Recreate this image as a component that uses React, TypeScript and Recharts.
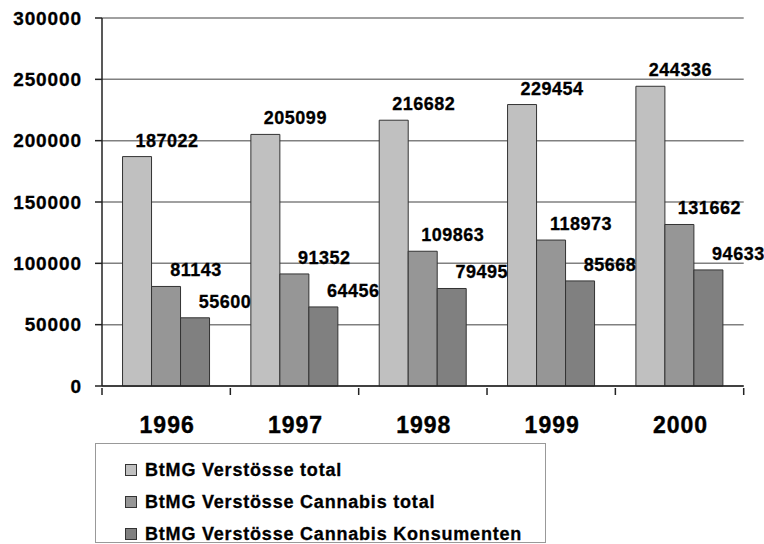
import React from "react"
import { BarChart, Bar, XAxis, YAxis, CartesianGrid, Legend, LabelList } from "recharts"

const years = ["1996", "1997", "1998", "1999", "2000"]
const verstoesseTotal = [187022, 205099, 216682, 229454, 244336]
const cannabisTotal = [81143, 91352, 109863, 118973, 131662]
const cannabisKonsumenten = [55600, 64456, 79495, 85668, 94633]
const yTicks = [0, 50000, 100000, 150000, 200000, 250000, 300000]

const seriesInfo = [
  { key: "total", name: "BtMG Verstösse total", color: "#c0c0c0" },
  { key: "cannabis", name: "BtMG Verstösse Cannabis total", color: "#969696" },
  { key: "konsum", name: "BtMG Verstösse Cannabis Konsumenten", color: "#808080" },
]

const data = years.map((year, i) => ({
  year,
  total: verstoesseTotal[i],
  cannabis: cannabisTotal[i],
  konsum: cannabisKonsumenten[i],
}))

const FONT = "'Liberation Sans', Arial, sans-serif"
const W = 764
const H = 544
const PLOT_LEFT = 102
const PLOT_RIGHT = 743.7
const BAND = (PLOT_RIGHT - PLOT_LEFT) / years.length

const BarLabel = (props: any) => {
  const { x, y, width, value } = props
  return (
    <text
      x={x + width / 2 + 30}
      y={y - 16}
      textAnchor="middle"
      dominantBaseline="central"
      fontFamily={FONT}
      fontWeight="bold"
      fontSize={18}
      letterSpacing={0.5}
      stroke="#000"
      strokeWidth={0.3}
      fill="#000"
    >
      {value}
    </text>
  )
}

const YTick = (props: any) => {
  const { x, y, payload } = props
  return (
    <text
      x={x}
      y={y}
      textAnchor="end"
      dominantBaseline="central"
      fontFamily={FONT}
      fontWeight="bold"
      fontSize={19}
      letterSpacing={0.9}
      stroke="#000"
      strokeWidth={0.3}
      fill="#000"
    >
      {payload.value}
    </text>
  )
}

const XTick = (props: any) => {
  const { x, y, payload, index } = props
  const last = index === years.length - 1
  return (
    <g>
      <line x1={x - BAND / 2} x2={x - BAND / 2} y1={y} y2={y + 7} stroke="#222" strokeWidth={1.5} />
      {last && <line x1={x + BAND / 2} x2={x + BAND / 2} y1={y} y2={y + 7} stroke="#222" strokeWidth={1.5} />}
      <text
        x={x + 1}
        y={y + 45}
        textAnchor="middle"
        fontFamily={FONT}
        fontWeight="bold"
        fontSize={23}
        letterSpacing={1}
        stroke="#000"
        strokeWidth={0.4}
        fill="#000"
      >
        {payload.value}
      </text>
    </g>
  )
}

const LegendBox = () => (
  <div
    style={{
      width: 451,
      height: 100,
      border: "1.5px solid #999",
      background: "#fff",
      fontFamily: FONT,
      fontWeight: "bold",
      fontSize: 18,
      letterSpacing: 0.8,
      boxSizing: "border-box",
      paddingTop: 10,
      WebkitTextStroke: "0.3px #000",
    }}
  >
    {seriesInfo.map((s) => (
      <div key={s.key} style={{ display: "flex", alignItems: "center", height: 32, paddingLeft: 29 }}>
        <span
          style={{
            display: "inline-block",
            width: 10,
            height: 10,
            background: s.color,
            border: "1px solid #333",
            marginRight: 8,
          }}
        />
        <span>{s.name}</span>
      </div>
    ))}
  </div>
)

export default function App() {
  return (
    <div style={{ position: "absolute", left: 0, top: 0, width: W, height: H, background: "#fff" }}>
      <BarChart
        width={W}
        height={H}
        data={data}
        margin={{ top: 18, right: W - PLOT_RIGHT, left: 0, bottom: 0 }}
        barCategoryGap="16%"
        barGap={0}
      >
        <CartesianGrid vertical={false} stroke="#808080" strokeWidth={1.5} />
        <XAxis
          dataKey="year"
          height={57}
          axisLine={{ stroke: "#222", strokeWidth: 1.5 }}
          tickLine={false}
          tickSize={0}
          tick={<XTick />}
          interval={0}
        />
        <YAxis
          width={PLOT_LEFT}
          domain={[0, 300000]}
          ticks={yTicks}
          axisLine={{ stroke: "#222", strokeWidth: 1.5 }}
          tickLine={{ stroke: "#222", strokeWidth: 1.5 }}
          tickSize={7}
          tickMargin={13}
          tick={<YTick />}
          interval={0}
        />
        <Legend
          verticalAlign="bottom"
          align="left"
          height={101}
          content={<LegendBox />}
          wrapperStyle={{ left: 95, width: 451, bottom: 0 }}
        />
        {seriesInfo.map((s) => (
          <Bar
            key={s.key}
            dataKey={s.key}
            name={s.name}
            fill={s.color}
            stroke="#333"
            strokeWidth={1}
            isAnimationActive={false}
          >
            <LabelList dataKey={s.key} content={<BarLabel />} />
          </Bar>
        ))}
      </BarChart>
    </div>
  )
}
